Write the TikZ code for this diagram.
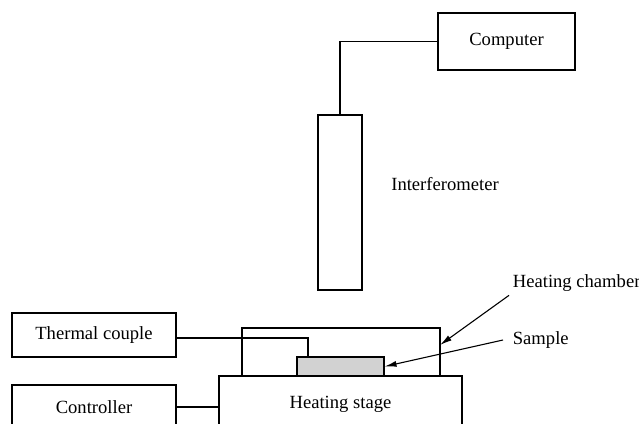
\documentclass[tikz,border=0pt]{standalone}
\usepackage{fontspec}
\setmainfont{Liberation Serif}
\usetikzlibrary{arrows.meta}
\begin{document}
\begin{tikzpicture}[x=1pt, y=-1pt, line width=1.1pt, >={Latex[length=12pt,width=6pt]},
	box/.style={draw, rectangle, inner sep=0pt},
	lbl/.style={font=\fontsize{18.6}{22}\selectfont}]
	\useasboundingbox (0,0) rectangle (639,423);
	\clip (0,0) rectangle (639,423);
	\node (C)[box, lbl, minimum width=137pt, minimum height=57pt] at (506.5,41.5) {Computer};
	\node (I)[box, minimum width=44pt, minimum height=175pt] at (340,202.5) {};
	\node (IL)[lbl] at (445,184) {Interferometer};
	\node (T)[box, lbl, minimum width=164pt, minimum height=44pt] at (94,335) {Thermal couple};
	\node (K)[box, lbl, minimum width=164pt, minimum height=44pt] at (94,407) {Controller};
	\node (H)[box, lbl, minimum width=243pt, minimum height=56pt] at (340.5,404) {Heating stage};
	\node (Ch)[box, minimum width=198pt, minimum height=48pt] at (341,352) {};
	\node (S)[box, fill=gray!35, minimum width=87pt, minimum height=19pt] at (340.5,366.5) {};
	\node (ChL)[lbl, anchor=west] at (509,283) {Heating chamber};
	\node (SL)[lbl, anchor=west] at (509,340) {Sample};
	\coordinate (tcend) at (308,357);
	\coordinate (chtip) at (440,345);
	\draw (C.west) -| (I.north);
	\draw ([yshift=-3pt]T.east) -| (tcend);
	\draw (K.east) -- (K.east -| H.west);
	\draw[->] (ChL.south west) -- (chtip);
	\draw[->] ([xshift=-6pt]SL.west) -- (S.east);
\end{tikzpicture}
\end{document}
